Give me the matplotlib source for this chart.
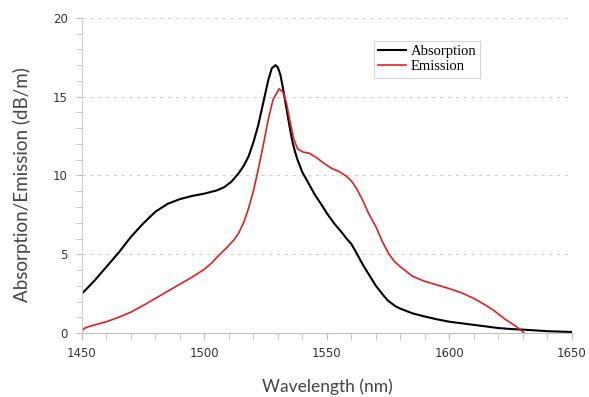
import matplotlib.pyplot as plt
from matplotlib.ticker import MultipleLocator

# curvas (longitud de onda en nm, dB/m)
abs_wl = [1450, 1455, 1460, 1465, 1470, 1475, 1480, 1485, 1490, 1495, 1500, 1505,
          1508, 1511, 1514, 1516, 1518, 1520, 1522, 1524, 1526, 1527.5, 1529, 1530,
          1531, 1532, 1533, 1534, 1535, 1536, 1537, 1538, 1540, 1542, 1545, 1548,
          1550, 1553, 1556, 1558, 1560, 1562, 1565, 1568, 1570, 1573, 1575, 1578,
          1580, 1585, 1590, 1595, 1600, 1605, 1610, 1615, 1620, 1625, 1632, 1640,
          1650]
abs_val = [2.5, 3.3, 4.2, 5.1, 6.1, 6.95, 7.7, 8.2, 8.5, 8.7, 8.85, 9.05,
           9.25, 9.6, 10.15, 10.6, 11.2, 12.1, 13.2, 14.6, 16.0, 16.8, 17.0, 16.85,
           16.4, 15.6, 14.7, 13.8, 12.9, 12.1, 11.5, 11.0, 10.2, 9.65, 8.8, 8.1,
           7.6, 6.95, 6.4, 6.0, 5.65, 5.1, 4.25, 3.5, 3.0, 2.4, 2.05, 1.7,
           1.55, 1.25, 1.05, 0.87, 0.72, 0.62, 0.52, 0.42, 0.32, 0.26, 0.2, 0.12,
           0.07]

emi_wl = [1450, 1451, 1453, 1456, 1460, 1465, 1470, 1475, 1480, 1485, 1490, 1495,
          1500, 1503, 1506, 1509, 1512, 1514, 1516, 1518, 1520, 1522, 1524, 1526,
          1528, 1530.5, 1532, 1533.5, 1535, 1536.5, 1538, 1540, 1543, 1546, 1549, 1552,
          1555, 1558, 1560, 1562, 1564.7, 1567, 1570, 1572.5, 1575, 1577.5, 1580, 1585,
          1590, 1595, 1600, 1605, 1610, 1615, 1618, 1620.5, 1623, 1625, 1627, 1629,
          1630.5]
emi_val = [0.1, 0.3, 0.42, 0.55, 0.72, 1.0, 1.33, 1.75, 2.2, 2.65, 3.1, 3.55,
           4.05, 4.45, 4.95, 5.4, 5.9, 6.35, 7.0, 7.9, 9.0, 10.4, 11.9, 13.5,
           14.8, 15.5, 15.3, 14.6, 13.4, 12.3, 11.7, 11.5, 11.4, 11.1, 10.75, 10.45,
           10.25, 9.95, 9.65, 9.2, 8.4, 7.6, 6.75, 5.85, 5.1, 4.55, 4.2, 3.6,
           3.28, 3.05, 2.82, 2.55, 2.2, 1.75, 1.45, 1.15, 0.85, 0.65, 0.45, 0.2,
           0.0]

fig = plt.figure(figsize=(5.89, 3.97), dpi=100)
ax = fig.add_axes([0.139, 0.161, 0.832, 0.794])

ax.plot(abs_wl, abs_val, color='black', lw=1.5, label='Absorption')
ax.plot(emi_wl, emi_val, color='#e02020', lw=1.2, label='Emission')

ax.set_xlim(1450, 1650)
ax.set_ylim(0, 20)
ax.xaxis.set_major_locator(MultipleLocator(50))
ax.xaxis.set_minor_locator(MultipleLocator(10))
ax.yaxis.set_major_locator(MultipleLocator(5))
ax.yaxis.set_minor_locator(MultipleLocator(1))

# rejilla discontinua solo en los ticks mayores del eje y
ax.grid(axis='y', which='major', color='#d0d0d0', linestyle=(0, (3, 4)), lw=0.8)
ax.set_axisbelow(True)

for s in ['top', 'right']:
    ax.spines[s].set_visible(False)
ax.spines['left'].set_color('#d0d0d0')
ax.spines['bottom'].set_color('#c0c0c0')

ax.tick_params(which='both', colors='#c0c0c0', labelcolor='#333333', labelsize=8.5)
ax.tick_params(axis='x', which='both', length=5, pad=5)
ax.tick_params(axis='y', which='both', length=4, pad=6)

ax.set_xlabel('Wavelength (nm)', family='Lato', fontsize=12.5, color='#444444', va='center')
ax.set_ylabel('Absorption/Emission (dB/m)', family='Lato', fontsize=13.5, color='#444444', va='center')
ax.xaxis.set_label_coords(0.5, -0.171)
ax.yaxis.set_label_coords(-0.122, 0.47)

leg = ax.legend(loc='upper left', bbox_to_anchor=(0.596, 0.927),
                prop={'family': 'Liberation Serif', 'size': 10.5},
                frameon=True, fancybox=False, handlelength=1.9,
                handletextpad=0.3, borderpad=0.3, labelspacing=0.1,
                borderaxespad=0)
leg.get_frame().set_edgecolor('#cccccc')
leg.get_frame().set_linewidth(0.8)

fig.savefig('out.png', dpi=100)
